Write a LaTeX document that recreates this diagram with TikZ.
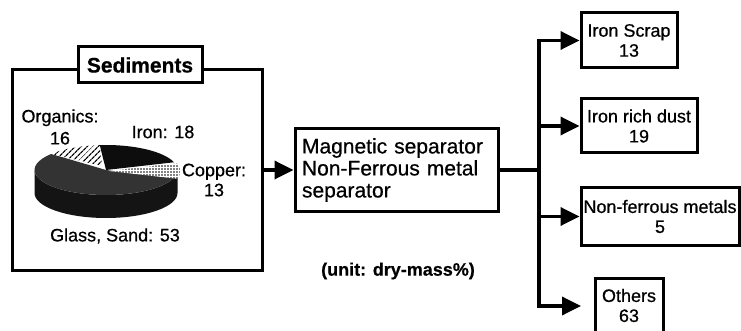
\documentclass[tikz,border=0pt]{standalone}
\usepackage{fontspec}
\setmainfont{Liberation Sans}[FakeBold=0.6]
\usetikzlibrary{arrows.meta, positioning, patterns.meta}
\tikzset{
  caixa/.style={
    draw, line width=3pt, fill=white, inner sep=1pt
  },
  caixaSaida/.style={caixa, align=center, font=\fontsize{18}{20}\selectfont},
  seta/.style={-{Triangle[length=19pt, width=18pt]}, line width=3.5pt},
  linha/.style={line width=3.5pt},
}

\begin{document}
\begin{tikzpicture}[
    x=1pt, y=-1pt,
    rotulo/.style={
        font=\fontsize{18}{22}\selectfont,
        align=center,
        inner sep=0pt
    },
    fatia/.style={x radius=71.5, y radius=25}
]
\useasboundingbox (0,0) rectangle (741,331);

% Sedimentos
\node[caixa, minimum width=250pt, minimum height=200pt] (sed) at (137,170) {};
\node[caixa, minimum width=124pt, minimum height=36pt,
    font=\fontsize{21}{22}\selectfont\bfseries] (titulo) at (140,65) {Sediments};

% Pizza
\begin{scope}[shift={(106,170)}, y=1pt]
  \fill[black!92] (-71.5,0) -- (-71.5,-23)
    arc[start angle=180, end angle=360, fatia] -- (71.5,0)
    arc[start angle=0, end angle=-180, fatia] -- cycle;
  \fill[black!80] (0,0) -- (-18:71.5 and 25)
    arc[start angle=-18, end angle=-220, fatia] -- cycle;
  \fill[black!95] (0,0) -- (18:71.5 and 25)
    arc[start angle=18, end angle=95, fatia] -- cycle;
  \path[fill=white, postaction={pattern={Lines[angle=45, distance=4pt, line width=1.4pt]}}]
    (-4,4) -- (95:71.5 and 25) arc[start angle=95, end angle=140, fatia] -- cycle;
  \path[fill=white, postaction={pattern={Dots[distance=3pt, radius=0.8pt]}}]
    (3,-1) -- ([shift={(3,-1)}]18:71.5 and 25)
    arc[start angle=18, end angle=-18, fatia] -- cycle;
\end{scope}

\node[rotulo] (organicos) at (60,127) {Organics:\\16};
\node[rotulo] (ferro) at (163,132) {Iron: 18};
\node[rotulo, font=\fontsize{18}{20}\selectfont] (cobre) at (214,180) {Copper:\\13};
\node[rotulo] (vidro) at (115,236) {Glass, Sand: 53};

% Separador
\node[caixa, minimum width=203pt, minimum height=83pt, text width=189pt,
    align=left, font=\fontsize{21}{22}\selectfont] (separador) at (396.5,170)
    {Magnetic separator\\Non-Ferrous metal\\separator};

\draw[seta] (sed.east) -- (separador.west);

\node[font=\fontsize{18}{20}\selectfont\bfseries] (unidade) at (398,271) {(unit: dry-mass\%)};

% Produtos
\node[caixaSaida, minimum width=96pt, minimum height=55pt] (sucata) at (629,40.5) {Iron Scrap\\13};
\node[caixaSaida, minimum width=116pt, minimum height=54pt] (poeira) at (639,126) {Iron rich dust\\19};
\node[caixaSaida, minimum width=158pt, minimum height=57pt] (naoFerrosos) at (660,216.5) {Non-ferrous metals\\5};
\node[caixaSaida, minimum width=68pt, minimum height=55pt] (outros) at (629,305.5) {Others\\63};

\coordinate (barra) at (539,170);
\coordinate (pontaOutros) at (581,306);

\draw[linha] (separador.east) -- (barra);
\draw[seta] (barra |- pontaOutros) -- (barra |- sucata.west) -- (sucata.west);
\draw[seta] (barra |- sucata.west) -- (barra |- pontaOutros) -- (pontaOutros);
\draw[seta] (barra |- poeira.west) -- (poeira.west);
\draw[seta] (barra |- naoFerrosos.west) -- (naoFerrosos.west);

\end{tikzpicture}
\end{document}
